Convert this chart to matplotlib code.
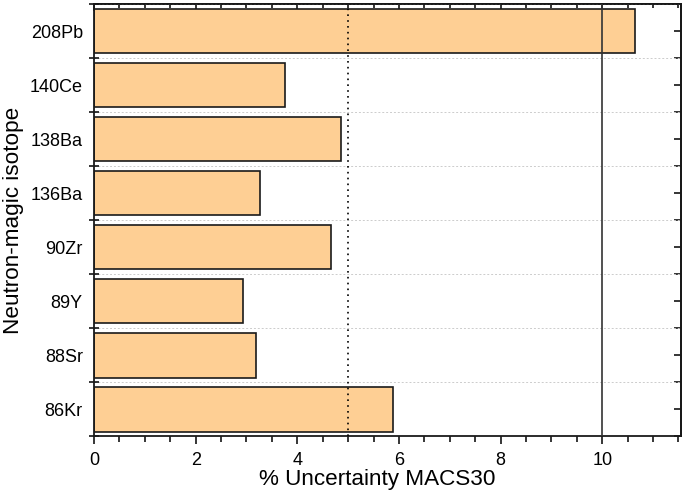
#!/usr/bin/env python

# Percent uncertainty of MACS30 for neutron-magic isotopes
# Horizontal bar chart with 5% and 10% reference lines.

import numpy as np
import matplotlib
matplotlib.use("Agg")
import matplotlib.pyplot as plt

isotopes = ["86Kr", "88Sr", "89Y", "90Zr", "136Ba", "138Ba", "140Ce", "208Pb"]
uncertainty = [5.89, 3.18, 2.94, 4.67, 3.27, 4.86, 3.76, 10.64]

plt.rcParams["font.family"] = ["Liberation Sans", "DejaVu Sans"]

fig = plt.figure(figsize=(6.85, 4.96), dpi=100)
ax = fig.add_axes([0.1372, 0.12, 0.857, 0.872])

ypos = np.arange(len(isotopes))
ax.barh(ypos, uncertainty, height=0.82, color="#FECF94",
        edgecolor="#1a1a1a", linewidth=1.2, zorder=2)

# reference lines
ax.axvline(5, color="black", linestyle=(0, (1, 2.5)), linewidth=1.2, zorder=3)
ax.axvline(10, color="#333333", linestyle="-", linewidth=1.2, zorder=3)

ax.set_xlim(0, 11.55)
ax.set_ylim(-0.5, len(isotopes) - 0.5)

# x axis: ticks outward at bottom
ax.set_xticks(np.arange(0, 11, 2))
ax.set_xticks(np.arange(0, 11.6, 0.5), minor=True)
ax.tick_params(axis="x", which="major", direction="out", length=6,
               width=1.1, labelsize=13, pad=5.5)
ax.tick_params(axis="x", which="minor", direction="out", length=4, width=1.1)

# y axis: labels at centres, ticks crossing the spine at boundaries
ax.set_yticks(ypos)
ax.set_yticklabels(isotopes)
ax.set_yticks(np.arange(-0.5, len(isotopes), 1.0), minor=True)
ax.tick_params(axis="y", which="major", length=0, labelsize=13, pad=8)
ax.tick_params(axis="y", which="minor", direction="inout", length=7, width=1.1)

ax.grid(which="minor", axis="y", linestyle=(0, (2, 2)), color="#cccccc",
        linewidth=0.7, zorder=0)
ax.set_axisbelow(True)

for s in ax.spines.values():
    s.set_linewidth(1.3)
    s.set_color("#1a1a1a")

# inward ticks on top and right
top = ax.secondary_xaxis("top")
top.set_xticks(np.arange(0, 11, 2))
top.set_xticks(np.arange(0, 11.6, 0.5), minor=True)
top.tick_params(which="major", direction="in", length=5, width=1.1,
                labeltop=False)
top.tick_params(which="minor", direction="in", length=3, width=1.1)
top.spines["top"].set_linewidth(1.3)

right = ax.secondary_yaxis("right")
right.set_yticks(np.arange(-0.5, len(isotopes), 0.5))
right.tick_params(which="major", direction="in", length=5, width=1.1,
                  labelright=False)
right.spines["right"].set_linewidth(1.3)

ax.set_xlabel("% Uncertainty MACS30", fontsize=16.2)
ax.xaxis.set_label_coords(0.482, -0.075)
ax.set_ylabel("Neutron-magic isotope", fontsize=16.2)
ax.yaxis.set_label_coords(-0.119, 0.5)

fig.savefig("out.png", dpi=100)
